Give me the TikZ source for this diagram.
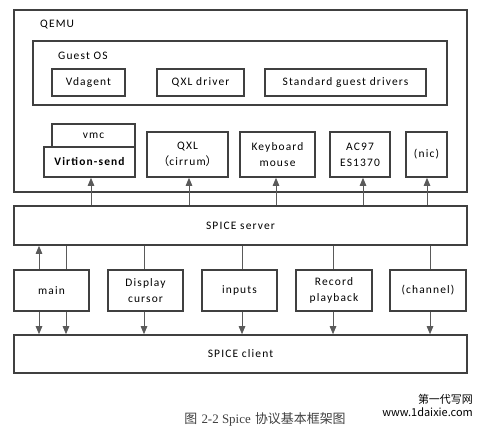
\documentclass[tikz,border=0pt]{standalone}
\usepackage{fontspec}
\setmainfont[LetterSpace=10]{Carlito}
\newfontfamily\cjk{Noto Sans CJK SC}
\newfontfamily\capfont{Liberation Serif}
\usetikzlibrary{arrows.meta}
\definecolor{bd}{HTML}{404040}
\definecolor{ln}{HTML}{5A5A5A}
\tikzset{
  box/.style={draw=bd, line width=1.6bp, fill=white, inner sep=0pt, align=center,
    font=\fontsize{11.5}{16}\selectfont},
  conn/.style={draw=ln, line width=0.9bp},
  arr/.style={conn, -{Triangle[length=8bp,width=6.5bp]}},
  lbl/.style={inner sep=0pt, anchor=west, font=\fontsize{11.5}{13}\selectfont}
}
\begin{document}
\begin{tikzpicture}[x=1bp,y=-1bp]
\useasboundingbox (0,0) rectangle (484,429);
% QEMU
\node[box, minimum width=453bp, minimum height=182bp] (qemu) at (240.5,101) {};
\node[lbl] (qemulbl) at (40,25) {QEMU};
\node[box, minimum width=414bp, minimum height=64bp] (guest) at (240,73) {};
\node[lbl] (guestlbl) at (58,56) {Guest OS};
\node[box, minimum width=73bp, minimum height=27bp] (vda) at (88.5,82.5) {Vdagent};
\node[box, minimum width=87bp, minimum height=27bp] (qxld) at (200.5,82.5) {QXL driver};
\node[box, minimum width=161bp, minimum height=27bp] (std) at (345.5,82.5) {Standard guest drivers};
% devices
\node[box, minimum width=83bp, minimum height=23bp] (vmc) at (93.5,135.5) {vmc};
\node[box, minimum width=91bp, minimum height=30bp, font=\fontsize{11.5}{16}\selectfont\bfseries] (vs) at (89.5,162) {Virtion-send};
\node[box, minimum width=81bp, minimum height=45bp] (qxl) at (187.5,154.5) {QXL\\{\cjk （}cirrum{\cjk ）}};
\node[box, minimum width=75bp, minimum height=45bp] (kbd) at (277.5,154.5) {Keyboard\\mouse};
\node[box, minimum width=60bp, minimum height=45bp] (ac) at (360,154.5) {AC97\\ES1370};
\node[box, minimum width=41bp, minimum height=45bp] (nic) at (426.5,154.5) {(nic)};
% server
\node[box, minimum width=453bp, minimum height=39bp] (server) at (240.5,225.5) {SPICE server};
% channels
\node[box, minimum width=75bp, minimum height=41bp] (main) at (51.5,290.5) {main};
\node[box, minimum width=75bp, minimum height=41bp] (disp) at (145.5,290.5) {Display\\cursor};
\node[box, minimum width=75bp, minimum height=41bp] (inp) at (239.5,290.5) {inputs};
\node[box, minimum width=76bp, minimum height=41bp] (rec) at (334,290.5) {Record\\playback};
\node[box, minimum width=76bp, minimum height=41bp] (chan) at (428,290.5) {(channel)};
% client
\node[box, minimum width=453bp, minimum height=38bp] (client) at (240.5,354) {SPICE client};
% upper connectors
\draw[arr] (server.north -| 91,0) -- (vs.south -| 91,0);
\draw[arr] (server.north -| 189,0) -- (qxl.south -| 189,0);
\draw[arr] (server.north -| 276,0) -- (kbd.south -| 276,0);
\draw[arr] (server.north -| 363,0) -- (ac.south -| 363,0);
\draw[arr] (server.north -| 427,0) -- (nic.south -| 427,0);
% lower connectors
\draw[arr] (main.north -| 39,0) -- (server.south -| 39,0);
\draw[arr] (main.south -| 39,0) -- (client.north -| 39,0);
\draw[conn] (server.south -| 66,0) -- (main.north -| 66,0);
\draw[arr] (main.south -| 66,0) -- (client.north -| 66,0);
\draw[conn] (server.south -| 144,0) -- (disp.north -| 144,0);
\draw[arr] (disp.south -| 144,0) -- (client.north -| 144,0);
\draw[conn] (server.south -| 242,0) -- (inp.north -| 242,0);
\draw[arr] (inp.south -| 242,0) -- (client.north -| 242,0);
\draw[conn] (server.south -| 333,0) -- (rec.north -| 333,0);
\draw[arr] (rec.south -| 333,0) -- (client.north -| 333,0);
\draw[conn] (server.south -| 430,0) -- (chan.north -| 430,0);
\draw[arr] (chan.south -| 430,0) -- (client.north -| 430,0);
% caption and watermark
\node[inner sep=0pt, font=\fontsize{13}{14}\selectfont, text=black!75] (cap) at (265,419)
  {{\cjk 图} {\capfont 2-2 Spice} {\cjk 协议基本框架图}};
\node[inner sep=0pt, anchor=east, font=\fontsize{11}{12}\selectfont\cjk] (wm1) at (473,399) {第一代写网};
\node[inner sep=0pt, anchor=east, font=\fontsize{11}{12}\selectfont\cjk] (wm2) at (473,412) {www.1daixie.com};
\end{tikzpicture}
\end{document}
